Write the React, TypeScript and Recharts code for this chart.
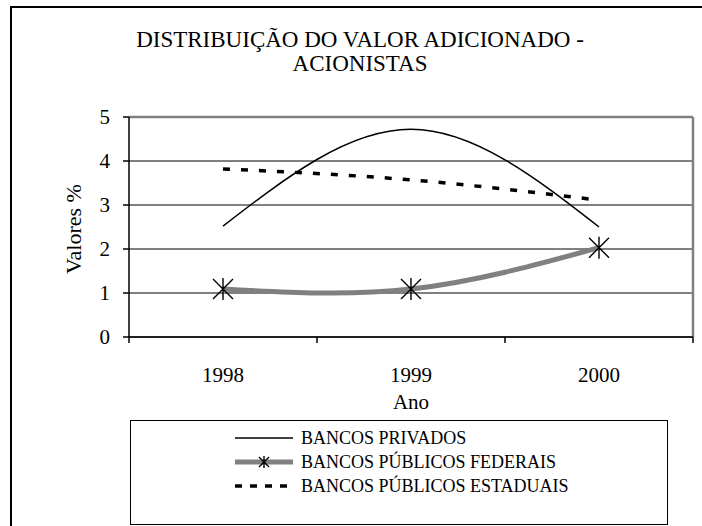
import React from 'react';
import { LineChart, Line, XAxis, YAxis, CartesianGrid, ReferenceLine } from 'recharts';

const years = ['1998', '1999', '2000'];
const privados = [2.52, 4.72, 2.5];
const federais = [1.09, 1.09, 2.03];
const estaduais = [3.82, 3.57, 3.11];
const yTicks = [0, 1, 2, 3, 4, 5];
const seriesNames = ['BANCOS PRIVADOS', 'BANCOS PÚBLICOS FEDERAIS', 'BANCOS PÚBLICOS ESTADUAIS'];

const data = years.map((year, i) => ({
  pos: i + 0.5,
  year,
  privados: privados[i],
  federais: federais[i],
  estaduais: estaduais[i],
}));

// tick marks sit on the category edges, labels in the middle
const edgeTicks = years.map((_, i) => i).concat(years.length);
const centerTicks = years.map((_, i) => i + 0.5);
const xTicks = [...edgeTicks, ...centerTicks].sort((a, b) => a - b);

const FONT = '"Liberation Serif", "Times New Roman", serif';

const Star = ({ cx, cy, r }: { cx: number; cy: number; r: number }) => (
  <path
    d={`M${cx - r},${cy - r}L${cx + r},${cy + r}M${cx + r},${cy - r}L${cx - r},${cy + r}M${cx},${cy - r - 1}L${cx},${cy + r + 1}`}
    stroke="#000"
    strokeWidth={1.4}
    fill="none"
  />
);

const XTick = (props: any) => {
  const { x, y, payload } = props;
  const v = payload.value;
  if (Number.isInteger(v)) {
    return <line x1={x} x2={x} y1={y} y2={y + 6} stroke="#000" strokeWidth={1.5} />;
  }
  return (
    <text x={x} y={y + 45} textAnchor="middle" fontSize={21} fontFamily={FONT} fill="#000">
      {years[Math.floor(v)]}
    </text>
  );
};

function LegendSample({ idx }: { idx: number }) {
  return (
    <svg width={60} height={24} style={{ display: 'block' }}>
      {idx === 0 && <line x1={0} x2={58} y1={12} y2={12} stroke="#000" strokeWidth={1.5} />}
      {idx === 1 && (
        <g>
          <line x1={0} x2={58} y1={12} y2={12} stroke="#808080" strokeWidth={5} />
          <Star cx={29} cy={12} r={5} />
        </g>
      )}
      {idx === 2 && (
        <line x1={0} x2={58} y1={12} y2={12} stroke="#000" strokeWidth={3.5} strokeDasharray="7 8" />
      )}
    </svg>
  );
}

export default function App() {
  return (
    <div
      style={{
        position: 'fixed',
        left: 0,
        top: 0,
        width: 702,
        height: 526,
        overflow: 'hidden',
        background: '#fff',
        fontFamily: FONT,
        color: '#000',
      }}
    >
      {/* outer chart frame, runs off the right and bottom */}
      <div
        style={{
          position: 'absolute',
          left: 10,
          top: 6,
          width: 760,
          height: 600,
          border: '2px solid #000',
        }}
      />

      <div style={{ position: 'absolute', left: 0, top: 0 }}>
        <LineChart width={702} height={526} data={data} margin={{ top: 117, right: 9, bottom: 129, left: 0 }}>
          <CartesianGrid vertical={false} stroke="#000" strokeWidth={1} />
          <XAxis
            dataKey="pos"
            type="number"
            domain={[0, years.length]}
            ticks={xTicks}
            interval={0}
            height={60}
            tickSize={0}
            tickMargin={0}
            tickLine={false}
            axisLine={{ stroke: '#000', strokeWidth: 1.5 }}
            tick={<XTick />}
          />
          <YAxis
            type="number"
            domain={[0, 5]}
            ticks={yTicks}
            interval={0}
            width={129}
            tickSize={6}
            tickMargin={13}
            axisLine={{ stroke: '#000', strokeWidth: 1.5 }}
            tickLine={{ stroke: '#000', strokeWidth: 1.5 }}
            tick={{ fontSize: 21, fill: '#000', fontFamily: FONT }}
          />
          <ReferenceLine y={5} stroke="#808080" strokeWidth={2.5} />
          <ReferenceLine x={years.length} stroke="#808080" strokeWidth={2.5} />
          <Line
            type="natural"
            dataKey="federais"
            stroke="#808080"
            strokeWidth={5}
            isAnimationActive={false}
            dot={(p: any) => <Star key={`st-${p.index}`} cx={p.cx} cy={p.cy} r={10} />}
            activeDot={false}
          />
          <Line
            type="natural"
            dataKey="privados"
            stroke="#000"
            strokeWidth={1.5}
            dot={false}
            activeDot={false}
            isAnimationActive={false}
          />
          <Line
            type="natural"
            dataKey="estaduais"
            stroke="#000"
            strokeWidth={3.5}
            strokeDasharray="7 11"
            dot={false}
            activeDot={false}
            isAnimationActive={false}
          />
        </LineChart>
      </div>

      {/* title */}
      <div
        style={{
          position: 'absolute',
          left: 60,
          width: 600,
          top: 28,
          textAlign: 'center',
          fontSize: 23,
          lineHeight: '24px',
        }}
      >
        DISTRIBUIÇÃO DO VALOR ADICIONADO -
        <br />
        ACIONISTAS
      </div>

      {/* axis titles */}
      <div
        style={{
          position: 'absolute',
          left: 74,
          top: 229,
          fontSize: 22,
          whiteSpace: 'nowrap',
          transform: 'translate(-50%, -50%) rotate(-90deg)',
        }}
      >
        Valores %
      </div>
      <div
        style={{
          position: 'absolute',
          left: 411,
          top: 402,
          fontSize: 21,
          transform: 'translate(-50%, -50%)',
        }}
      >
        Ano
      </div>

      {/* legend */}
      <div
        style={{
          position: 'absolute',
          left: 130,
          top: 420,
          width: 538,
          height: 105,
          boxSizing: 'border-box',
          border: '1.5px solid #000',
        }}
      >
        {seriesNames.map((name, i) => (
          <div
            key={name}
            style={{
              position: 'absolute',
              left: 104,
              top: 5 + i * 24,
              display: 'flex',
              alignItems: 'center',
              height: 24,
              fontSize: 18,
              whiteSpace: 'nowrap',
            }}
          >
            <LegendSample idx={i} />
            <span style={{ marginLeft: 6 }}>{name}</span>
          </div>
        ))}
      </div>
    </div>
  );
}
